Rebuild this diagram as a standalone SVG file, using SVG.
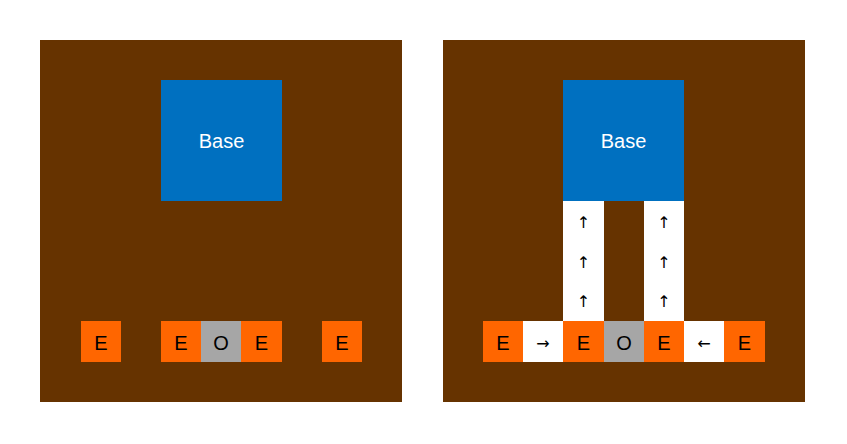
<svg xmlns="http://www.w3.org/2000/svg" width="847" height="444" viewBox="0 0 847 444">
<style>
.panel{fill:#663300}
.base{fill:#0070C0}
.e{fill:#FF6600}
.o{fill:#A6A6A6}
.w{fill:#FFFFFF}
text{font-family:"Liberation Sans Narrow","Liberation Sans",Arial,sans-serif;text-anchor:middle;dominant-baseline:central}
.lbl{font-size:20px;fill:#000}
.bl{font-size:20px;fill:#fff}
.arr{font-family:"DejaVu Sans",sans-serif;font-size:16px;fill:#000}
</style>
<rect width="847" height="444" fill="#fff"/>
<g id="left-panel">
<rect class="panel" x="40" y="40" width="362" height="362"/>
<g id="left-base"><rect class="base" x="161" y="80" width="121" height="121"/><text class="bl" x="221.5" y="141">Base</text></g>
<g id="left-e1"><rect class="e" x="81" y="321" width="40" height="41"/><text class="lbl" x="101" y="343">E</text></g>
<g id="left-e2"><rect class="e" x="161" y="321" width="40" height="41"/><text class="lbl" x="181" y="343">E</text></g>
<g id="left-o"><rect class="o" x="201" y="321" width="40" height="41"/><text class="lbl" x="221" y="343">O</text></g>
<g id="left-e3"><rect class="e" x="241" y="321" width="41" height="41"/><text class="lbl" x="261.5" y="343">E</text></g>
<g id="left-e4"><rect class="e" x="322" y="321" width="40" height="41"/><text class="lbl" x="342" y="343">E</text></g>
</g>
<g id="right-panel">
<rect class="panel" x="443" y="40" width="362" height="362"/>
<g id="right-base"><rect class="base" x="563" y="80" width="121" height="121"/><text class="bl" x="623.5" y="141">Base</text></g>
<g id="right-e1"><rect class="e" x="483" y="321" width="40" height="41"/><text class="lbl" x="503" y="343">E</text></g>
<g id="right-e2"><rect class="e" x="563" y="321" width="41" height="41"/><text class="lbl" x="583.5" y="343">E</text></g>
<g id="right-o"><rect class="o" x="604" y="321" width="40" height="41"/><text class="lbl" x="624" y="343">O</text></g>
<g id="right-e3"><rect class="e" x="644" y="321" width="40" height="41"/><text class="lbl" x="664" y="343">E</text></g>
<g id="right-e4"><rect class="e" x="724" y="321" width="41" height="41"/><text class="lbl" x="744.5" y="343">E</text></g>
</g>
<g id="connectors">
<rect class="w" x="563" y="201" width="41" height="120"/>
<rect class="w" x="644" y="201" width="40" height="120"/>
<rect class="w" x="523" y="321" width="40" height="41"/>
<rect class="w" x="684" y="321" width="40" height="41"/>
<text class="arr" x="583.5" y="222">↑</text>
<text class="arr" x="583.5" y="262">↑</text>
<text class="arr" x="583.5" y="301">↑</text>
<text class="arr" x="664" y="222">↑</text>
<text class="arr" x="664" y="262">↑</text>
<text class="arr" x="664" y="301">↑</text>
<text class="arr" x="543" y="343">→</text>
<text class="arr" x="704" y="343">←</text>
</g>
</svg>
